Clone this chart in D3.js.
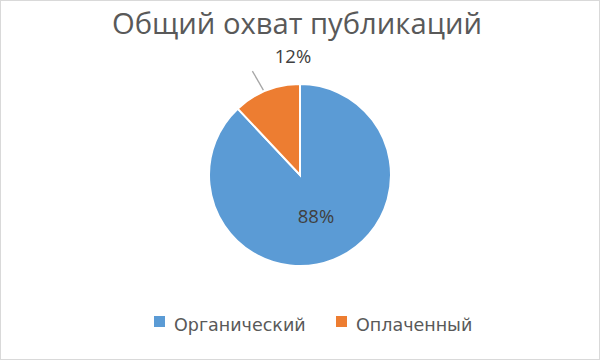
<!DOCTYPE html>
<html>
<head>
<meta charset="utf-8">
<script src="https://cdn.jsdelivr.net/npm/d3@7"></script>
<style>
  body { margin: 0; background: #fff; }
  svg { display: block; }
</style>
</head>
<body>
<div id="chart"></div>
<script>
const width = 600;
const height = 360;

const chartTitle = 'Общий охват публикаций';
const categories = ['Органический', 'Оплаченный'];
const values = [88, 12];
const colors = ['#5B9BD5', '#ED7D31'];

const svg = d3.select('#chart').append('svg').attr('width', width).attr('height', height);

svg.append('rect')
    .attr('x', 0.5).attr('y', 0.5)
    .attr('width', width - 1).attr('height', height - 1)
    .attr('fill', '#fff').attr('stroke', '#D9D9D9');

svg.append('text')
    .attr('x', 297).attr('y', 34)
    .attr('text-anchor', 'middle')
    .attr('font-family', 'Open Sans, sans-serif')
    .attr('font-size', 29.2)
    .attr('fill', '#595959')
    .text(chartTitle);

const cx = 300, cy = 175, r = 91;
const data = categories.map((c, i) => ({ name: c, value: values[i], color: colors[i] }));

// orange slice ends at 12 o'clock, blue runs clockwise from there
const pie = d3.pie().value(d => d.value).sort(null).startAngle(0).endAngle(2 * Math.PI);
const arc = d3.arc().innerRadius(0).outerRadius(r);

const g = svg.append('g').attr('transform', 'translate(' + cx + ',' + cy + ')');
const arcs = pie(data);

g.selectAll('path').data(arcs)
    .enter().append('path')
    .attr('d', arc)
    .attr('fill', d => d.data.color)
    .attr('stroke', '#fff')
    .attr('stroke-width', 2);

// 88% label inside
g.append('text')
    .attr('x', 16).attr('y', 43)
    .attr('text-anchor', 'middle')
    .attr('dominant-baseline', 'middle')
    .attr('font-family', 'Open Sans, sans-serif')
    .attr('font-size', 18.5)
    .attr('fill', '#404040')
    .text(values[0] + '%');

// 12% label outside, with leader line
const c1 = arcs[1];
const a1 = (c1.startAngle + c1.endAngle) / 2 - 0.03;
const p0 = [Math.sin(a1) * (r + 1.5), -Math.cos(a1) * (r + 1.5)];
const p1 = [p0[0] - 11, p0[1] - 19];
g.append('line')
    .attr('x1', p0[0]).attr('y1', p0[1])
    .attr('x2', p1[0]).attr('y2', p1[1])
    .attr('stroke', '#A6A6A6').attr('stroke-width', 1.3);
g.append('text')
    .attr('x', -7).attr('y', -117)
    .attr('text-anchor', 'middle')
    .attr('dominant-baseline', 'middle')
    .attr('font-family', 'Open Sans, sans-serif')
    .attr('font-size', 18.5)
    .attr('fill', '#404040')
    .text(values[1] + '%');

// legend
const legendX = [154, 336];
const legend = svg.append('g').selectAll('g').data(data)
    .enter().append('g')
    .attr('transform', (d, i) => 'translate(' + legendX[i] + ',316)');
legend.append('rect')
    .attr('width', 11).attr('height', 11)
    .attr('fill', d => d.color);
legend.append('text')
    .attr('x', 20).attr('y', 15)
    .attr('font-family', 'DejaVu Sans, sans-serif')
    .attr('font-size', 17.5)
    .attr('fill', '#595959')
    .text(d => d.name);
</script>
</body>
</html>
